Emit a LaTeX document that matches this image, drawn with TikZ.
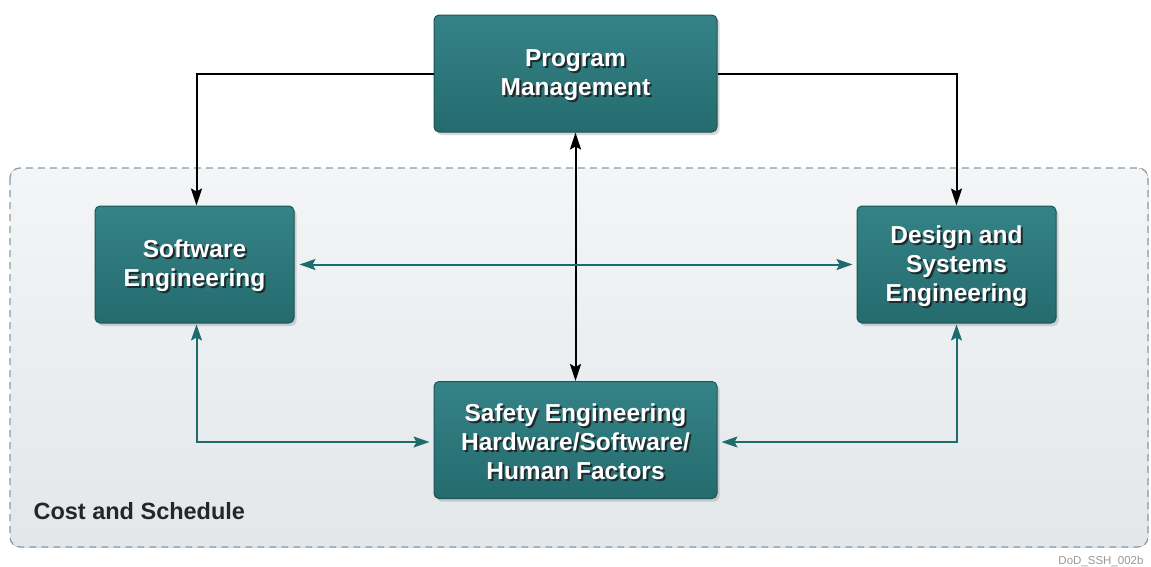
\documentclass[tikz,border=0pt]{standalone}
\usepackage{fontspec}
\setmainfont{Liberation Sans}
\usetikzlibrary{arrows.meta,shadows}
\definecolor{boxtop}{HTML}{358387}
\definecolor{boxbot}{HTML}{246B6E}
\definecolor{boxedge}{HTML}{1A5558}
\definecolor{regiontop}{HTML}{F3F5F6}
\definecolor{regionbot}{HTML}{E3E7EA}
\definecolor{regionedge}{HTML}{8C9CA8}
\definecolor{tealline}{HTML}{1E6B6D}
\definecolor{txtshadow}{HTML}{1E2A2C}
\tikzset{
  mainbox/.style={rectangle, rounded corners=5pt, draw=boxedge, line width=1pt,
    top color=boxtop, bottom color=boxbot, minimum height=117pt,
    drop shadow={shadow xshift=2.5pt, shadow yshift=-3pt, opacity=0.3}},
  boxtext/.style={text=white, font=\fontsize{24.5}{29}\selectfont\bfseries, align=center},
  shadowtext/.style={text=txtshadow, font=\fontsize{24.5}{29}\selectfont\bfseries, align=center},
  blackarrow/.style={draw=black, line width=2pt, -{Stealth[length=17pt,width=11pt,inset=3pt]}},
  blackdouble/.style={draw=black, line width=2pt, {Stealth[length=17pt,width=11pt,inset=3pt]}-{Stealth[length=17pt,width=11pt,inset=3pt]}},
  tealdouble/.style={draw=tealline, line width=2pt, {Stealth[length=16pt,width=11pt,inset=3pt]}-{Stealth[length=16pt,width=11pt,inset=3pt]}},
}
\begin{document}
\begin{tikzpicture}[x=1pt,y=-1pt]
\useasboundingbox[fill=white] (0,0) rectangle (1151,566);
% region
\fill[top color=regiontop, bottom color=regionbot, rounded corners=10pt]
  (10,168) rectangle (1148,547);
\draw[draw=regionedge, line width=1.3pt, dash pattern=on 7pt off 5pt, rounded corners=10pt]
  (10,168) rectangle (1148,547);
\node[anchor=west, font=\fontsize{23.5}{27}\selectfont\bfseries, text=black!85] (cost) at (30,511) {Cost and Schedule};
\node[anchor=east, font=\fontsize{11.5}{13}\selectfont, text=black!40] (code) at (1147,561) {DoD\_SSH\_002b};
% boxes
\node[mainbox, minimum width=283pt] (pm) at (575.5,73.5) {};
\node[mainbox, minimum width=199pt] (sw) at (194.5,264.5) {};
\node[mainbox, minimum width=199pt] (ds) at (956.5,264.5) {};
\node[mainbox, minimum width=283pt] (se) at (575.5,440) {};
% text with shadow
\node[shadowtext] (pmS) at ([shift={(2,3.5)}]pm.center) {Program\\Management};
\node[boxtext] (pmT) at ([shift={(0,1.5)}]pm.center) {Program\\Management};
\node[shadowtext] (swS) at ([shift={(2,3.5)}]sw.center) {Software\\Engineering};
\node[boxtext] (swT) at ([shift={(0,1.5)}]sw.center) {Software\\Engineering};
\node[shadowtext] (dsS) at ([shift={(2,3.5)}]ds.center) {Design and\\Systems\\Engineering};
\node[boxtext] (dsT) at ([shift={(0,1.5)}]ds.center) {Design and\\Systems\\Engineering};
\node[shadowtext] (seS) at ([shift={(2,3.5)}]se.center) {Safety Engineering\\Hardware/Software/\\Human Factors};
\node[boxtext] (seT) at ([shift={(0,1.5)}]se.center) {Safety Engineering\\Hardware/Software/\\Human Factors};
% connectors
\draw[blackarrow] (pm.west) -| ([xshift=2pt]sw.north);
\draw[blackarrow] (pm.east) -| (ds.north);
\draw[blackdouble] (pm.south) -- (se.north);
\draw[tealdouble, shorten <=5pt, shorten >=4pt] (sw.east) -- (ds.west);
\draw[tealdouble, shorten >=4pt, shorten <=1pt] ([xshift=2pt]sw.south) |- ([yshift=-2pt]se.west);
\draw[tealdouble, shorten >=4pt, shorten <=1pt] (ds.south) |- ([yshift=-2pt]se.east);
\end{tikzpicture}
\end{document}
